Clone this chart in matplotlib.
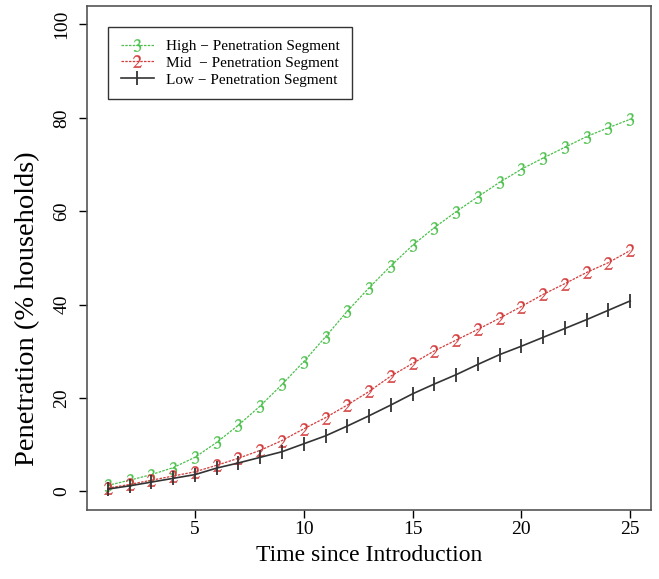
import numpy as np
import matplotlib.pyplot as plt

plt.rcParams['font.family'] = ['Liberation Serif', 'DejaVu Serif']
plt.rcParams['mathtext.fontset'] = 'stix'

time = list(range(1, 26))
high = [1.3, 2.4, 3.6, 5.1, 7.3, 10.5, 14.2, 18.3, 22.9, 27.8, 33.1, 38.6, 43.6,
        48.3, 52.7, 56.5, 59.9, 63.1, 66.2, 69.0, 71.4, 73.7, 76.0, 77.9, 79.7]
mid = [0.7, 1.5, 2.4, 3.3, 4.2, 5.6, 7.1, 8.8, 10.9, 13.4, 15.8, 18.5, 21.4,
       24.7, 27.4, 30.1, 32.4, 34.7, 37.1, 39.6, 42.2, 44.5, 46.9, 49.0, 51.6]
low = [0.5, 1.2, 2.0, 2.8, 3.6, 5.0, 6.1, 7.3, 8.5, 10.2, 11.9, 14.0, 16.2,
       18.5, 20.9, 23.0, 25.0, 27.2, 29.3, 31.1, 33.0, 34.9, 36.8, 38.8, 40.8]
labels = ['High \u2212 Penetration Segment', 'Mid  \u2212 Penetration Segment',
          'Low \u2212 Penetration Segment']

fig = plt.figure(figsize=(6.59, 5.79), dpi=100)
ax = fig.add_axes([0.132, 0.119, 0.856, 0.871])

ax.plot(time, high, color='#4cc04c', ls=(0, (2, 1)), lw=0.9,
        marker=r'$\mathrm{3}$', ms=9, mew=0.2, label=labels[0])
ax.plot(time, mid, color='#d43c3c', ls=(0, (2, 1)), lw=0.9,
        marker=r'$\mathrm{2}$', ms=9, mew=0.2, label=labels[1])
ax.plot(time, low, color='#333333', ls='-', lw=1.2,
        marker='|', ms=10, mew=1.3, label=labels[2])

ax.set_xlim(0.04, 25.96)
ax.set_ylim(-4, 104)
ax.set_xticks([5, 10, 15, 20, 25])
ax.set_yticks([0, 20, 40, 60, 80, 100])
ax.tick_params(labelsize=14, length=6, width=1, direction='out')
ax.tick_params(axis='x', pad=2)
ax.tick_params(axis='y', pad=6)
for t in ax.get_yticklabels():
    t.set_rotation(90)
    t.set_va('center')
for s in ax.spines.values():
    s.set_color('#555555')
    s.set_linewidth(1.2)

ax.set_xlabel('Time since Introduction', fontsize=17, labelpad=5)
ax.set_ylabel('Penetration (% households)', fontsize=20.5)
ax.yaxis.set_label_coords(-0.083, 0.40)

leg = ax.legend(loc='upper left', fontsize=11, fancybox=False,
                edgecolor='#333333', framealpha=1, handlelength=2.2,
                borderaxespad=1.4, labelspacing=0.2, borderpad=0.8)
leg.get_frame().set_linewidth(1.0)

fig.savefig('out.png', dpi=100)
